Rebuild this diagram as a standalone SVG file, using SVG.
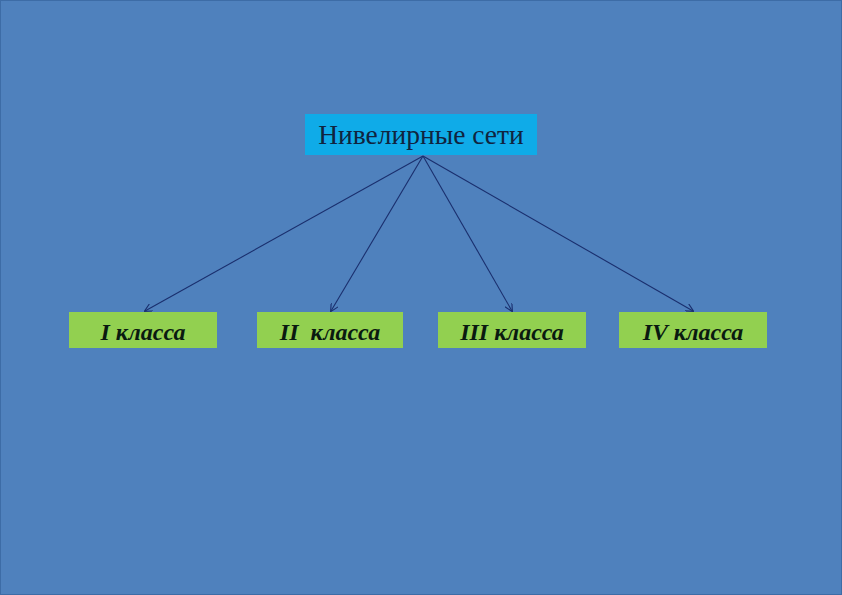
<svg xmlns="http://www.w3.org/2000/svg" width="842" height="595" viewBox="0 0 842 595">
<defs>
<style>
.top{fill:#0fabe8}
.cls{fill:#92d050}
.tt{font-family:"Liberation Serif","Times New Roman",serif;font-size:27.5px;fill:#10243f}
.ct{font-family:"Liberation Serif","Times New Roman",serif;font-size:24px;font-weight:bold;font-style:italic;fill:#0a1a10;text-anchor:middle}
.ln{stroke:#1a2f6e;stroke-width:1.1;fill:none;marker-end:url(#ah)}
</style>
<marker id="ah" viewBox="0 0 10 10" refX="9" refY="5" markerWidth="8" markerHeight="8" markerUnits="userSpaceOnUse" orient="auto">
<path d="M0,0 L10,5 L0,10" fill="none" stroke="#1a2f6e" stroke-width="1.4"/>
</marker>
</defs>
<rect x="0" y="0" width="842" height="595" fill="#4f81bd"/>
<rect x="0.5" y="0.5" width="841" height="594" fill="none" stroke="#3d6ca6" stroke-width="1"/>
<g id="connectors">
<line class="ln" x1="423" y1="156" x2="145" y2="311"/>
<line class="ln" x1="423" y1="156" x2="331" y2="311"/>
<line class="ln" x1="423" y1="156" x2="512" y2="311"/>
<line class="ln" x1="423" y1="156" x2="693" y2="311"/>
</g>
<g id="root">
<rect class="top" x="305" y="114" width="232" height="41"/>
<text class="tt" x="421" y="144" text-anchor="middle">Нивелирные сети</text>
</g>
<g id="n1">
<rect class="cls" x="69" y="312" width="148" height="36"/>
<text class="ct" x="143" y="340">I класса</text>
</g>
<g id="n2">
<rect class="cls" x="257" y="312" width="146" height="36"/>
<text class="ct" x="330" y="340" xml:space="preserve">II  класса</text>
</g>
<g id="n3">
<rect class="cls" x="438" y="312" width="148" height="36"/>
<text class="ct" x="512" y="340">III класса</text>
</g>
<g id="n4">
<rect class="cls" x="619" y="312" width="148" height="36"/>
<text class="ct" x="693" y="340">IV класса</text>
</g>
</svg>
